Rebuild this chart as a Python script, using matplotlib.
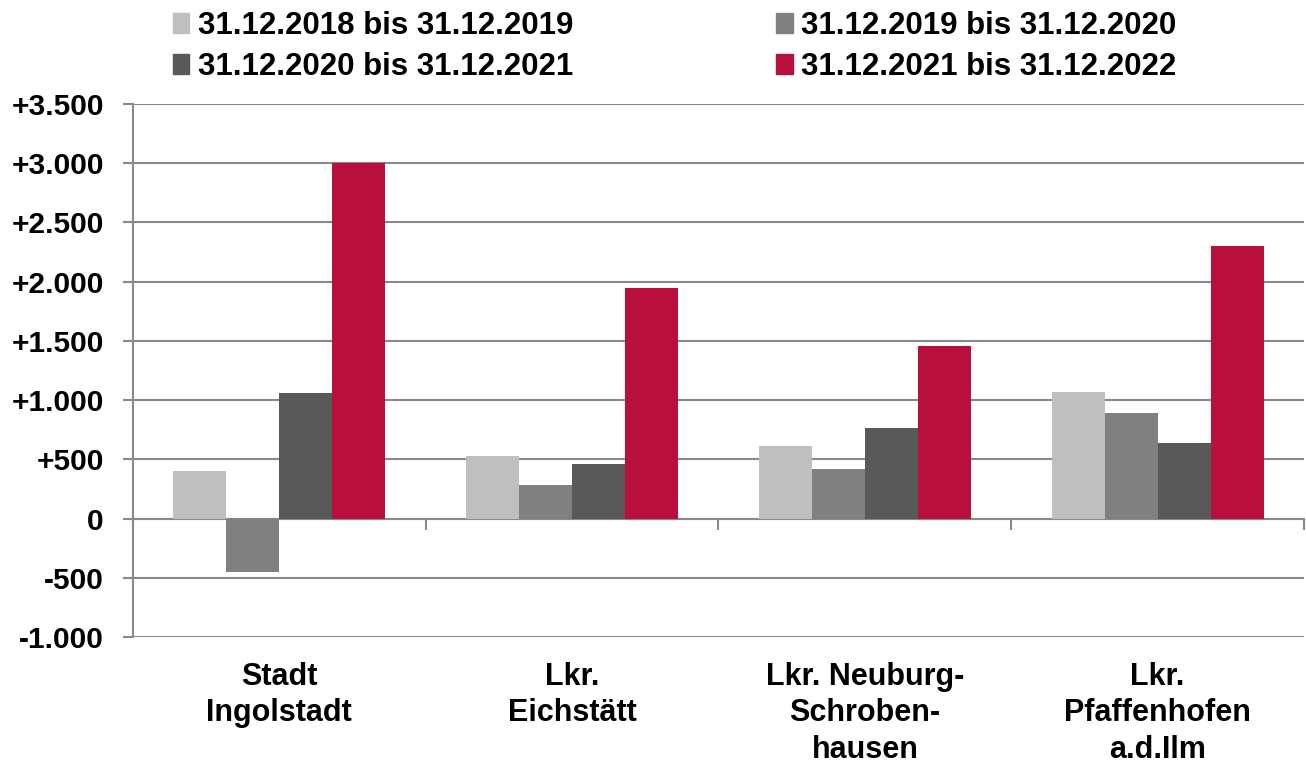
import matplotlib
matplotlib.use("Agg")
import matplotlib.pyplot as plt
from matplotlib.patches import Patch
from matplotlib.ticker import FuncFormatter
import numpy as np

plt.rcParams['font.family'] = ['Liberation Sans', 'DejaVu Sans']
plt.rcParams['font.weight'] = 'bold'

regions = ["Stadt\nIngolstadt", "Lkr.\nEichstätt", "Lkr. Neuburg-\nSchroben-\nhausen",
           "Lkr.\nPfaffenhofen\na.d.Ilm"]
periods = ["31.12.2018 bis 31.12.2019", "31.12.2019 bis 31.12.2020",
           "31.12.2020 bis 31.12.2021", "31.12.2021 bis 31.12.2022"]
v_2019 = [405, 531, 616, 1071]
v_2020 = [-447, 281, 418, 894]
v_2021 = [1057, 458, 767, 641]
v_2022 = [3004, 1950, 1453, 2304]
colors = ["#BFBFBF", "#808080", "#595959", "#B90F3C"]

grid_col = "#898989"

fig = plt.figure(figsize=(13.06, 7.64), dpi=100)
ax = fig.add_axes([0.1018, 0.1662, 0.8967, 0.6977])

x = np.arange(len(regions))
w = 0.181
series = [v_2019, v_2020, v_2021, v_2022]
for i, vals in enumerate(series):
    ax.bar(x + (i - 1.5) * w, vals, width=w, color=colors[i], zorder=3)

ax.set_xlim(-0.5, 3.5)
ax.set_ylim(-1000, 3500)
ax.set_yticks(np.arange(-1000, 3501, 500))


def fmt(v, pos):
    if v == 0:
        return "0"
    return f"{v:+,.0f}".replace(",", ".")


ax.yaxis.set_major_formatter(FuncFormatter(fmt))
ax.grid(axis='y', color=grid_col, linewidth=1.5, zorder=0)
ax.tick_params(axis='y', length=7, width=1.5, color=grid_col, pad=14, labelsize=21.5)

ax.set_xticks(x)
ax.set_xticklabels(regions, fontsize=22, linespacing=1.28)
ax.tick_params(axis='x', length=0, pad=18)

for s in ['top', 'right', 'bottom']:
    ax.spines[s].set_visible(False)
ax.spines['left'].set_color(grid_col)
ax.spines['left'].set_linewidth(1.5)

# category separators on the zero line
sec = ax.secondary_xaxis(1000 / 4500)
sec.set_xticks(np.arange(-0.5, 3.6, 1.0))
sec.tick_params(length=8, width=1.5, color=grid_col, labelbottom=False, direction='out')
sec.spines['bottom'].set_color(grid_col)
sec.spines['bottom'].set_linewidth(1.5)

handles = [Patch(color=c) for c in colors]
order = [0, 2, 1, 3]
fig.legend([handles[i] for i in order], [periods[i] for i in order], ncol=2,
           loc='upper left', bbox_to_anchor=(0.118, 1.010), frameon=False,
           fontsize=22.5, handlelength=0.52, handleheight=0.6, handletextpad=0.28,
           columnspacing=6.5, labelspacing=0.36, borderaxespad=0.2)

fig.savefig("out.png", dpi=100)
